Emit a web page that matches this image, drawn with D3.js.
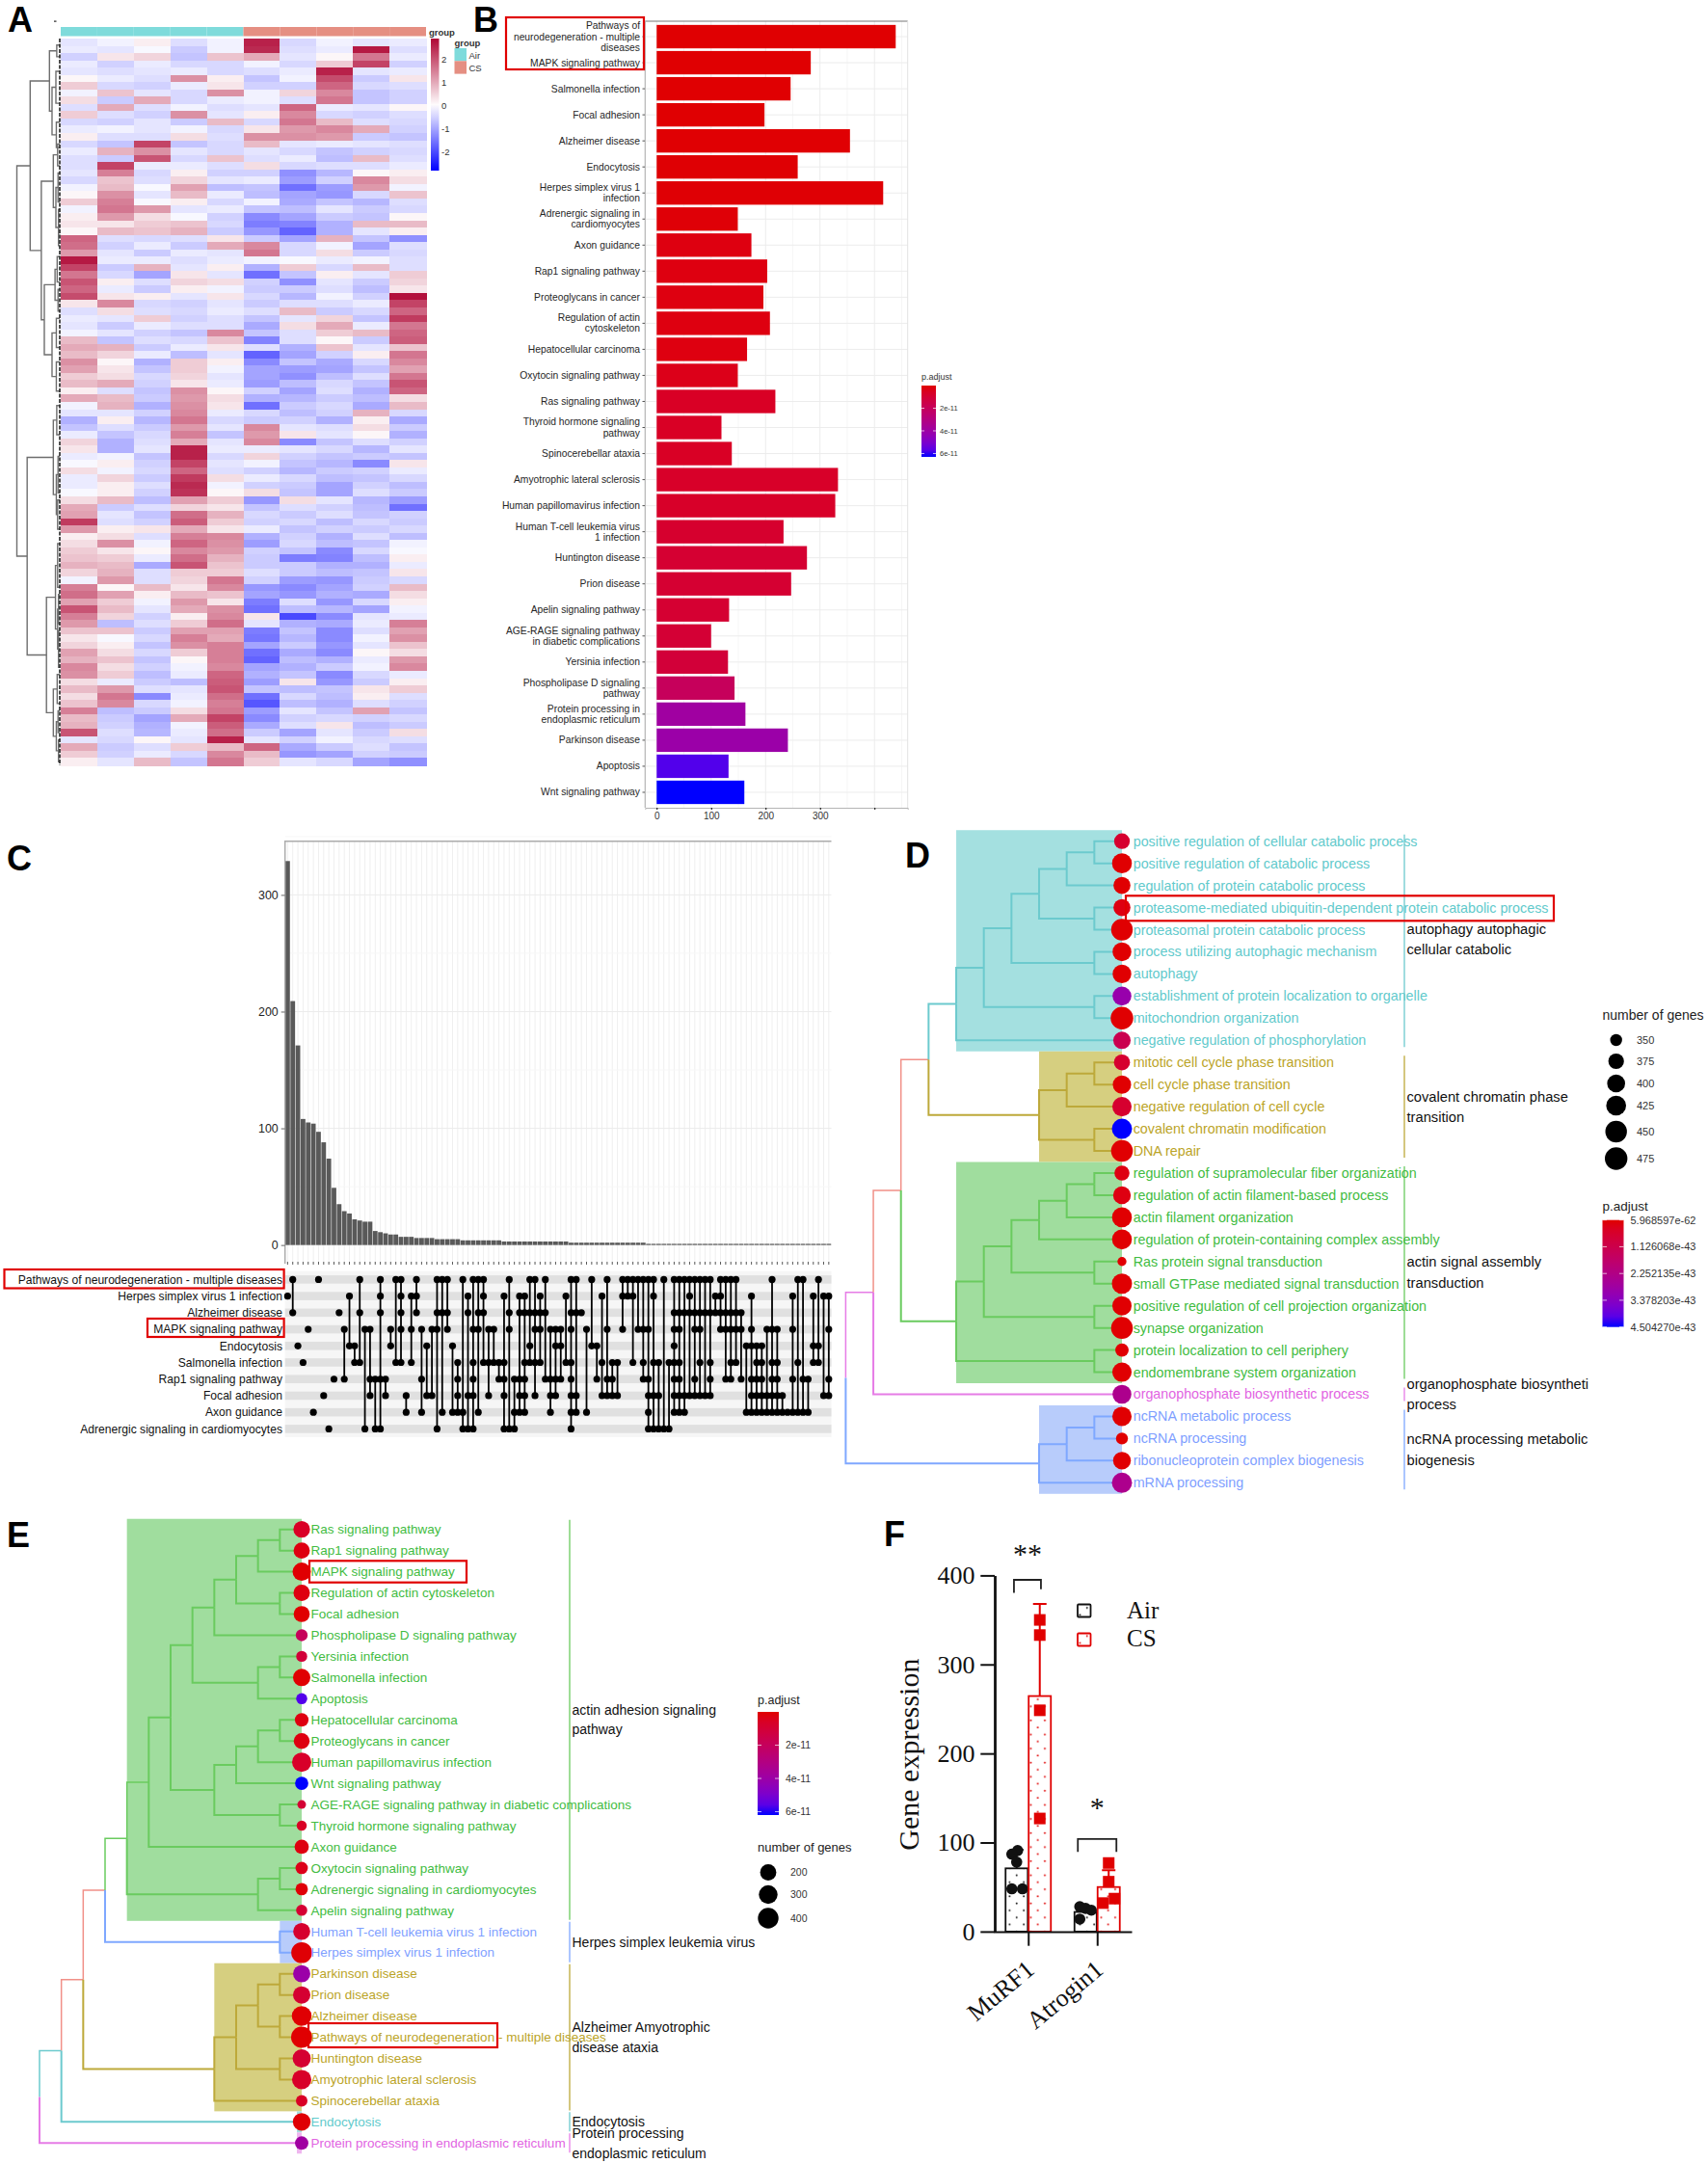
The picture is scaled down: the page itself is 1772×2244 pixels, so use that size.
<!DOCTYPE html>
<html>
<head>
<meta charset="utf-8">
<script src="https://cdn.jsdelivr.net/npm/d3@7"></script>
<style>
  html, body { margin: 0; background: #fff; }
  svg { display: block; font-family: "Liberation Sans", Arial, sans-serif; }
  .serif { font-family: "Liberation Serif", "Times New Roman", serif; }
</style>
</head>
<body>
<div id="chart"></div>
<script>
// ---------- data: panel A (z-scores x10, one row per gene band, read top to bottom)
const samples = ['a1', 'a2', 'a3', 'a4', 'a5', 'c1', 'c2', 'c3', 'c4', 'c5'];
const sampleGroup = ['Air', 'Air', 'Air', 'Air', 'Air', 'CS', 'CS', 'CS', 'CS', 'CS'];
const heatRows = [
  [-4,-2,2,-5,-2,26,-6,-2,-4,-3],
  [-3,-4,-1,-8,-2,25,-5,-3,27,-5],
  [-7,3,5,-9,7,10,-4,1,16,-3],
  [-3,-7,-3,-6,-6,-2,-6,6,22,-7],
  [-4,-5,-4,-3,-6,-5,-3,26,-4,-3],
  [1,-3,-5,13,2,-9,-2,21,-8,3],
  [6,-6,-7,-3,3,-7,-7,18,-6,-5],
  [-2,7,-4,-6,13,-2,5,14,-9,-7],
  [4,-8,10,-6,-3,-2,-5,16,-9,-7],
  [-5,10,-5,-2,-5,-4,18,-3,-4,1],
  [6,-5,-7,13,-4,2,14,-6,-7,-5],
  [-6,-7,-4,-8,8,-6,16,8,-5,-6],
  [-3,-2,-4,-2,-6,3,12,14,10,-7],
  [2,-5,-5,4,-5,13,13,12,-8,-9],
  [-6,-9,22,-9,-6,8,-4,-3,-4,-5],
  [-3,9,13,-4,-6,-4,-6,-9,-7,-6],
  [-5,-8,20,-6,7,-5,-3,-10,8,-5],
  [-5,22,-3,-3,-5,4,-6,-5,-5,-3],
  [-4,15,-6,2,-7,-7,-17,-11,1,2],
  [-6,7,-5,5,-4,-3,-15,-7,14,4],
  [-2,8,-1,11,-10,-9,-22,-15,12,-2],
  [1,13,-4,8,-3,-10,-14,-16,-6,7],
  [6,15,-1,2,-6,-2,-13,-9,-11,-5],
  [-2,16,12,-4,-3,-9,-10,-4,-8,-6],
  [2,12,4,-1,-7,-18,-14,-8,-9,1],
  [3,3,6,7,-6,-20,-19,-12,8,8],
  [1,8,7,9,-8,-16,-24,-12,-4,2],
  [18,-5,-6,-5,3,-8,-14,9,-9,-17],
  [17,-7,-3,-8,10,14,-6,-2,-14,-5],
  [12,-4,-8,-3,-4,16,-6,4,-8,-6],
  [27,-3,-3,-5,-3,-2,-1,-3,-2,-5],
  [22,-8,9,-4,2,-12,6,-6,8,-5],
  [16,-6,-14,3,-4,-22,-9,2,-4,6],
  [20,2,-5,5,4,-7,-17,-4,-8,5],
  [18,-3,-8,2,-2,-8,-8,-5,-10,3],
  [21,3,2,-4,3,-6,-11,-2,-7,28],
  [3,14,-6,-7,-4,-8,-5,-5,-3,22],
  [-5,4,-5,-6,-3,-5,8,-8,-6,18],
  [-3,-4,6,-7,-5,-9,-4,5,-9,23],
  [-4,-8,-3,-5,-5,-13,4,10,-3,16],
  [-2,-4,-7,-9,14,-9,-5,6,8,18],
  [8,-9,-5,-6,7,-19,-5,1,-8,19],
  [10,9,-8,-3,3,-5,-12,7,-4,7],
  [8,5,-3,-10,-4,-24,-14,-7,2,16],
  [13,1,-12,6,2,-18,-9,-13,-6,14],
  [11,3,-9,6,-2,-14,-15,-14,-9,11],
  [6,4,-6,5,-4,-14,-17,-10,-5,16],
  [8,10,-7,3,-3,-15,-10,-6,-9,20],
  [2,-5,-9,13,1,-7,-14,-5,-12,18],
  [10,8,-8,12,4,-12,-11,-8,-10,4],
  [-2,9,-12,13,3,-22,-8,-6,-13,8],
  [-4,-4,-7,14,-3,-6,-10,-7,9,-6],
  [-12,2,-11,16,-6,-8,-7,-12,2,-13],
  [-9,-5,-8,12,-4,14,-4,-5,4,-8],
  [-3,-9,-6,15,-9,12,3,-4,1,-12],
  [5,-12,-5,10,-4,14,-18,-9,-5,-7],
  [3,-12,-4,26,-3,-3,-4,-6,-11,-4],
  [-3,-2,-9,26,-6,5,-7,-9,-8,-9],
  [-1,2,-7,22,-4,-2,-9,-11,-18,3],
  [4,-2,-6,18,-5,-7,-11,-8,-7,-3],
  [-3,5,-8,23,4,-3,-6,-10,-9,-6],
  [-3,2,-5,25,-2,-7,-8,-14,-7,-10],
  [-1,2,-7,24,1,4,-9,-14,-5,-8],
  [4,8,-10,11,6,-16,4,-4,-11,-15],
  [10,-8,-5,5,3,-9,-5,-7,-10,-22],
  [11,-4,-9,17,9,-6,-8,-5,-9,-7],
  [23,-5,-7,19,6,-7,-6,-10,-6,-8],
  [12,2,3,10,3,-3,-9,-7,-8,-6],
  [2,4,-5,15,14,-12,-7,-12,-5,-10],
  [4,13,-2,18,13,-15,-6,-10,-9,-2],
  [6,3,1,14,12,-7,-9,-18,-6,-1],
  [7,6,-3,17,9,-8,-20,-19,-10,2],
  [9,8,-13,20,7,-8,-8,-12,-12,-3],
  [5,9,-5,6,6,-5,-8,-10,-9,3],
  [-2,12,-5,5,16,-7,-15,-16,-8,-6],
  [15,1,8,3,14,-16,-18,-14,-7,8],
  [17,11,2,8,7,-14,-16,-12,-13,4],
  [11,6,-2,12,3,-20,-5,-16,-6,2],
  [20,8,-4,10,13,-22,-10,-11,-14,-2],
  [15,5,-7,2,14,3,-28,-18,-4,-3],
  [12,-10,-5,6,17,-4,-12,-13,-3,15],
  [7,7,-8,11,11,-20,-9,-18,-5,11],
  [3,-1,-6,15,10,-21,-11,-18,-2,13],
  [5,2,-9,13,15,-14,-8,-16,-4,7],
  [11,4,-6,6,15,-22,-13,-18,1,4],
  [9,7,-9,1,15,-24,-10,-12,-3,12],
  [14,4,-7,-2,14,-14,-12,-8,-2,14],
  [13,6,-10,-3,18,-12,-9,-18,-6,-3],
  [4,-3,-8,-10,19,-15,3,-16,-8,2],
  [8,12,-5,-4,20,-9,-10,-9,3,6],
  [4,16,-18,-3,17,-22,-6,-10,2,-5],
  [7,14,-6,-2,15,-26,-10,-12,-5,-7],
  [15,-10,-8,4,16,-15,-4,-9,11,-9],
  [8,-8,-14,10,22,-18,-7,-6,-7,-6],
  [9,-7,-12,-2,19,-13,-5,3,-10,-8],
  [20,-5,-11,-3,17,-8,-14,-4,-8,4],
  [-4,-6,1,-4,26,-4,-7,-2,-6,-5],
  [10,-8,-5,6,8,18,-13,-8,-5,-9],
  [6,-7,-3,-6,14,8,-16,-14,-7,-8],
  [2,-4,8,-9,16,6,-4,-6,-14,-17]
];
const heatLegendTicks = [2, 1, 0, -1, -2];
// row dendrogram: [merge height, child, child]; a bare number is a row position
const rowTree = [100,
  [69,
    [24, [7, 0.4, 2], [18, [9, 4, 8.4], [8, 11, 14.5]]],
    [43,
      [15, [5, 14, 17], [9, [4, 18, 22], [3, 23, 28]]],
      [36, [11, [6, 29.5, 33], [4, 34, 37]], [18, [8, 38, 42], [8, 44, 48]]]]],
  [76,
    [15, [7, 50, 54], [8, [4, 57, 62], [5, 63, 67]]],
    [31,
      [10, [5, 69, 75], [5, [3, 76, 80], [3, 81, 86]]],
      [15, [6, 87, 91], [8, [4, 92, 95], [3, 96, 99]]]]]];

// ---------- data: panel B (KEGG terms, '|' marks a label line break)
const keggLabels = ['Pathways of|neurodegeneration - multiple|diseases', 'MAPK signaling pathway', 'Salmonella infection',
  'Focal adhesion', 'Alzheimer disease', 'Endocytosis', 'Herpes simplex virus 1|infection',
  'Adrenergic signaling in|cardiomyocytes', 'Axon guidance', 'Rap1 signaling pathway', 'Proteoglycans in cancer',
  'Regulation of actin|cytoskeleton', 'Hepatocellular carcinoma', 'Oxytocin signaling pathway', 'Ras signaling pathway',
  'Thyroid hormone signaling|pathway', 'Spinocerebellar ataxia', 'Amyotrophic lateral sclerosis',
  'Human papillomavirus infection', 'Human T-cell leukemia virus|1 infection', 'Huntington disease', 'Prion disease',
  'Apelin signaling pathway', 'AGE-RAGE signaling pathway|in diabetic complications', 'Yersinia infection',
  'Phospholipase D signaling|pathway', 'Protein processing in|endoplasmic reticulum', 'Parkinson disease', 'Apoptosis',
  'Wnt signaling pathway'];
const keggCounts = [439, 283, 246, 198, 355, 259, 416, 149, 174, 203, 196, 208, 166, 149, 218, 119, 138, 333, 328, 233,
  276, 247, 133, 100, 131, 143, 163, 241, 132, 161];
const keggPadj = [0.02, 0.02, 0.03, 0.03, 0.04, 0.05, 0.06, 0.08, 0.2, 0.2, 0.2, 0.2, 0.2, 0.35, 0.6, 0.6, 0.6, 0.7, 0.7,
  0.8, 0.9, 0.9, 0.9, 1.0, 1.1, 2.0, 3.9, 4.1, 5.8, 6.3];   // x 1e-11
const barTicks = [0, 100, 200, 300];
const padjTicksKegg = [2, 4, 6];

// ---------- data: panel C (upset)
const upsetCounts = [329, 209, 171, 108, 105, 104, 97, 88, 74, 49, 35, 29, 27, 22, 21, 20, 20, 12, 11, 10, 9, 9, 7, 7, 7,
  6, 6, 6, 6, 5, 5, 5, 5, 5, 4, 4, 4, 4, 4, 4, 4, 4, 3, 3, 3, 3, 3, 3, 3, 3, 3, 3, 3, 3, 3, 2, 2, 2, 2, 2, 2, 2, 2, 2, 2,
  2, 2, 2, 2, 2, 1, 1, 1, 1, 1, 1, 1, 1, 1, 1, 1, 1, 1, 1, 1, 1, 1, 1, 1, 1, 1, 1, 1, 1, 1, 1, 1, 1, 1, 1, 1, 1, 1, 1, 1, 1];
const upsetSets = ['Pathways of neurodegeneration - multiple diseases', 'Herpes simplex virus 1 infection', 'Alzheimer disease',
  'MAPK signaling pathway', 'Endocytosis', 'Salmonella infection', 'Rap1 signaling pathway', 'Focal adhesion', 'Axon guidance',
  'Adrenergic signaling in cardiomyocytes'];
// for each set, the intersections (bar indices) it belongs to
const upsetMembers = [
  [1, 6, 14, 18, 21, 22, 25, 29, 30, 31, 34, 36, 37, 38, 43, 47, 48, 50, 55, 56, 59, 62, 65, 66, 67, 68, 69, 70, 71, 73, 75, 76, 77, 78, 79, 80, 81, 82, 84, 85, 86, 87, 94, 99, 100, 103],
  [0, 12, 18, 22, 24, 25, 35, 38, 42, 45, 46, 49, 54, 61, 65, 66, 67, 71, 78, 83, 84, 90, 98, 102, 104, 105],
  [1, 10, 14, 18, 22, 25, 29, 30, 31, 35, 37, 38, 43, 45, 46, 47, 48, 49, 50, 55, 56, 57, 75, 76, 77, 78, 79, 80, 81, 82, 83, 84, 85, 86, 87, 88],
  [4, 11, 15, 16, 20, 22, 24, 26, 28, 29, 31, 36, 37, 39, 40, 43, 48, 49, 51, 52, 53, 55, 58, 62, 65, 68, 69, 70, 75, 76, 79, 80, 84, 85, 86, 87, 88, 90, 93, 94, 95, 98, 105],
  [2, 12, 13, 20, 27, 32, 47, 52, 53, 59, 60, 75, 89, 90, 91, 92, 102, 103],
  [3, 13, 14, 21, 22, 24, 33, 36, 38, 39, 40, 41, 42, 46, 47, 48, 49, 54, 55, 61, 63, 64, 67, 69, 71, 72, 74, 75, 76, 80, 82, 86, 87, 91, 92, 94, 95, 99, 102, 103],
  [9, 11, 16, 17, 18, 19, 26, 33, 36, 41, 42, 44, 45, 46, 50, 51, 52, 53, 55, 60, 62, 63, 69, 70, 75, 76, 79, 82, 85, 86, 88, 90, 91, 92, 94, 95, 98, 100, 101, 105],
  [7, 16, 19, 23, 27, 28, 33, 35, 36, 39, 42, 45, 46, 48, 51, 52, 55, 56, 61, 62, 63, 64, 70, 71, 72, 75, 76, 77, 78, 79, 80, 81, 82, 90, 91, 92, 93, 94, 95, 96, 104, 105],
  [5, 23, 26, 30, 32, 33, 34, 37, 44, 45, 46, 51, 55, 56, 58, 70, 75, 76, 77, 89, 90, 91, 92, 93, 94, 95, 96, 97, 98, 99, 100, 101],
  [8, 15, 17, 18, 29, 34, 35, 36, 42, 43, 44, 55, 70, 71, 72, 73, 74]
];
const upsetTicks = [0, 100, 200, 300];

// ---------- data: panel D (GO terms)
const goTerms = ['positive regulation of cellular catabolic process', 'positive regulation of catabolic process',
  'regulation of protein catabolic process', 'proteasome-mediated ubiquitin-dependent protein catabolic process',
  'proteasomal protein catabolic process', 'process utilizing autophagic mechanism', 'autophagy',
  'establishment of protein localization to organelle', 'mitochondrion organization', 'negative regulation of phosphorylation',
  'mitotic cell cycle phase transition', 'cell cycle phase transition', 'negative regulation of cell cycle',
  'covalent chromatin modification', 'DNA repair', 'regulation of supramolecular fiber organization',
  'regulation of actin filament-based process', 'actin filament organization', 'regulation of protein-containing complex assembly',
  'Ras protein signal transduction', 'small GTPase mediated signal transduction', 'positive regulation of cell projection organization',
  'synapse organization', 'protein localization to cell periphery', 'endomembrane system organization',
  'organophosphate biosynthetic process', 'ncRNA metabolic process', 'ncRNA processing', 'ribonucleoprotein complex biogenesis',
  'mRNA processing'];
const goGenes = [376, 425, 390, 390, 450, 412, 410, 412, 475, 394, 380, 405, 418, 430, 455, 371, 398, 425, 425, 330, 430, 418,
  455, 360, 418, 412, 418, 350, 398, 430];
const goPadj = [0.6, 0.02, 0.02, 0.15, 0.02, 0.02, 0.02, 3.0, 0.02, 1.2, 0.6, 0.02, 0.6, 4.5, 0.02, 0.15, 0.15, 0.02, 0.02, 0.02,
  0.02, 0.02, 0.02, 0.02, 0.02, 2.4, 0.02, 0.02, 0.02, 2.4];   // x 1e-43
const goTeal = [[[[[[0, 1], 2], [3, 4]], [5, 6]], [7, 8]], 9];
const goGold = [[[10, 11], 12], [13, 14]];
const goGreen = [[[[[[15, 16], 17], 18], [19, 20]], [21, 22]], [23, 24]];
const goBlue = [[[26, 27], 28], 29];
const goTree = [[[[goTeal, goGold], goGreen], 25], goBlue];
// first term, last term, colour group, tree level of the shaded block
const goClusters = [[0, 9, 'teal', 4], [10, 14, 'gold', 7], [15, 24, 'green', 4], [25, 25, 'pink', null], [26, 29, 'blue', 7]];
const goClusterText = [
  [['autophagy autophagic', 964], ['cellular catabolic', 985]],
  [['covalent chromatin phase', 1138], ['transition', 1159]],
  [['actin signal assembly', 1309], ['transduction', 1331]],
  [['organophosphate biosyntheti', 1436], ['process', 1457]],
  [['ncRNA processing metabolic', 1493], ['biogenesis', 1515]]];
const goSizeLegend = [350, 375, 400, 425, 450, 475];
const goSizeRadius = [6.2, 8.1, 9.3, 10.3, 11.2, 11.7];
const goPadjLegend = [[0, '5.968597e-62'], [1.126068, '1.126068e-43'], [2.252135, '2.252135e-43'], [3.378203, '3.378203e-43'], [4.50427, '4.504270e-43']];

// ---------- data: panel E (KEGG tree, indices into keggTreeTerms)
const keggTreeTerms = ['Ras signaling pathway', 'Rap1 signaling pathway', 'MAPK signaling pathway', 'Regulation of actin cytoskeleton',
  'Focal adhesion', 'Phospholipase D signaling pathway', 'Yersinia infection', 'Salmonella infection', 'Apoptosis',
  'Hepatocellular carcinoma', 'Proteoglycans in cancer', 'Human papillomavirus infection', 'Wnt signaling pathway',
  'AGE-RAGE signaling pathway in diabetic complications', 'Thyroid hormone signaling pathway', 'Axon guidance',
  'Oxytocin signaling pathway', 'Adrenergic signaling in cardiomyocytes', 'Apelin signaling pathway',
  'Human T-cell leukemia virus 1 infection', 'Herpes simplex virus 1 infection', 'Parkinson disease', 'Prion disease',
  'Alzheimer disease', 'Pathways of neurodegeneration - multiple diseases', 'Huntington disease', 'Amyotrophic lateral sclerosis',
  'Spinocerebellar ataxia', 'Endocytosis', 'Protein processing in endoplasmic reticulum'];
const keggActinA = [[[[0, 1], 2], [3, 4]], 5];
const keggActinB = [[[[9, 10], 11], 12], [13, 14]];
const keggGreen = [[[[keggActinA, [[6, 7], 8]], keggActinB], 15], [[16, 17], 18]];
const keggGold = [[[[21, 22], [23, 24]], [25, 26]], 27];
const keggTree = [[[[keggGreen, [19, 20]], keggGold], 28], 29];
const keggClusters = [[0, 18, 'green', 4], [19, 20, 'blue', 11], [21, 27, 'gold', 8], [28, 28, 'teal', 11.78], [29, 29, 'pink', 11.78]];
const keggClusterText = [
  [['actin adhesion signaling', 1774], ['pathway', 1794]],
  [['Herpes simplex leukemia virus', 2015]],
  [['Alzheimer Amyotrophic', 2103], ['disease ataxia', 2124]],
  [['Endocytosis', 2201]],
  [['Protein processing', 2213], ['endoplasmic reticulum', 2234]]];
const keggSizeLegend = [200, 300, 400];
const keggSizeDomain = [100, 200, 300, 400, 440];
const keggSizeRadius = [4.5, 8.4, 9.7, 10.7, 11];

// ---------- data: panel F
const geneNames = ['MuRF1', 'Atrogin1'];
const exposures = ['Air', 'CS'];
const airMeans = [71, 22];
const csMeans = [264.5, 50];
const airErrTop = [92, 28];
const csErrTop = [368, 69];
const airPoints = [[91, 87, 78, 48, 48], [28, 26, 24, 14]];
const airJitter = [[1, -5, 0, -5, 6], [-6, 0, 6, -6]];
const csPoints = [[350, 333, 248.5, 127], [77, 56, 32, 37]];
const csJitter = [[0, 0, 0, 0], [0, 0, -6, 6]];
const exprTicks = [0, 100, 200, 300, 400];

// ---------- shared
const groupColors = {
  teal: { fill: '#A4E0E0', line: '#6CCACE', text: '#62CACC' },
  gold: { fill: '#D6CF80', line: '#BDA93A', text: '#BBA428' },
  green: { fill: '#A0DD9E', line: '#6ACB5F', text: '#42BC42' },
  blue: { fill: '#B8CCFB', line: '#7FA8FF', text: '#7F9FFF' },
  pink: { fill: '#EFB6EF', line: '#E67CE6', text: '#E264E2' },
  salmon: { line: '#F19088' }
};
const RED = '#E00000';

const svg = d3.select('#chart').append('svg').attr('width', 1772).attr('height', 2244);

function panelLabel(t, x, y) {
  svg.append('text').attr('x', x).attr('y', y).attr('font-size', 36).attr('font-weight', 'bold').attr('fill', '#000').text(t);
}
function redBox(x0, y0, x1, y1) {
  svg.append('rect').attr('x', x0).attr('y', y0).attr('width', x1 - x0).attr('height', y1 - y0)
    .attr('fill', 'none').attr('stroke', RED).attr('stroke-width', 2.2);
}
function gradient(id, color, domain) {
  const g = svg.append('defs').append('linearGradient').attr('id', id).attr('x1', 0).attr('x2', 0).attr('y1', 0).attr('y2', 1);
  d3.range(0, 1.001, 0.1).forEach(t => {
    g.append('stop').attr('offset', t).attr('stop-color', color(domain[0] + t * (domain[1] - domain[0])));
  });
}

// ---------- panel A
function heatmap() {
  const x = d3.scaleBand().domain(samples).range([63, 442]);
  const y = d3.scaleBand().domain(d3.range(heatRows.length)).range([40, 794]);
  const color = d3.scaleLinear().domain([-2.8, 0, 2.8]).range(['#0000FF', '#FFFFFF', '#B2103C']);
  const g = svg.append('g');
  // the blue bands are thin stripes blended with white in the reference, so read them softer
  const cellZ = d => d < 0 ? d / 14 : d / 10;

  samples.forEach((s, i) => {
    g.append('rect').attr('x', x(s)).attr('y', 28).attr('width', x.bandwidth()).attr('height', 9.5)
      .attr('fill', sampleGroup[i] === 'Air' ? '#7FDBDB' : '#E58F82');
  });
  g.selectAll('g.row').data(heatRows).join('g').attr('class', 'row')
    .each(function (row, r) {
      d3.select(this).selectAll('rect').data(row).join('rect')
        .attr('x', (d, i) => x(samples[i])).attr('y', y(r))
        .attr('width', x.bandwidth() + 0.5).attr('height', y.bandwidth() + 0.5)
        .attr('shape-rendering', 'crispEdges')
        .attr('fill', d => color(cellZ(d)));
    });

  // dendrogram
  const h = d3.scaleLinear().domain([0, 100]).range([62, 17.5]);
  const rowY = r => y(0) + (r + 0.5) * y.step();
  const lines = g.append('g').attr('fill', 'none').attr('stroke', '#6e6e6e').attr('stroke-width', 1.4);
  function walk(node) {
    if (typeof node === 'number') return { y: rowY(node), x: h(0) };
    const a = walk(node[1]), b = walk(node[2]);
    const nx = h(node[0]);
    lines.append('path').attr('d', `M${a.x},${a.y}H${nx}V${b.y}H${b.x}`);
    return { y: (a.y + b.y) / 2, x: nx };
  }
  walk(rowTree);
  g.append('line').attr('x1', h(0)).attr('x2', h(0)).attr('y1', y.range()[0]).attr('y2', y.range()[1])
    .attr('stroke', '#222').attr('stroke-width', 1.6).attr('stroke-dasharray', '4 1.5');
  g.append('rect').attr('x', 56).attr('y', 21.5).attr('width', 2.5).attr('height', 1.2).attr('fill', '#222');

  // legends
  gradient('heatGrad', color, [2.9, -2.8]);
  const ly = d3.scaleLinear().domain([2.9, -2.8]).range([40, 177]);
  g.append('rect').attr('x', 447).attr('y', 40).attr('width', 8.5).attr('height', 137).attr('fill', 'url(#heatGrad)');
  g.selectAll('text.lt').data(heatLegendTicks).join('text').attr('class', 'lt')
    .attr('x', 458).attr('y', d => ly(d)).attr('dy', '.35em').attr('font-size', 9.5).attr('fill', '#333').text(d => d);
  g.append('text').attr('x', 445).attr('y', 36.5).attr('font-size', 9.5).attr('font-weight', 'bold').attr('fill', '#333').text('group');
  g.append('text').attr('x', 471.5).attr('y', 47.5).attr('font-size', 9.5).attr('font-weight', 'bold').attr('fill', '#333').text('group');
  [['Air', '#7FDBDB'], ['CS', '#E58F82']].forEach((d, i) => {
    g.append('rect').attr('x', 471.5).attr('y', 50 + i * 13.3).attr('width', 12.5).attr('height', 13.3).attr('fill', d[1]);
    g.append('text').attr('x', 486.5).attr('y', 60.5 + i * 13.3).attr('font-size', 9.5).attr('fill', '#333').text(d[0]);
  });
}

// ---------- panel B
function keggBars() {
  const x = d3.scaleLinear().domain([-21.2, 461]).range([669.3, 941.7]);
  const y = d3.scaleBand().domain(keggLabels).range([24.5, 835.5]).paddingInner(0.1).paddingOuter(0.05);
  const color = d3.scaleLinear().domain([0, 6.3]).range([RED, '#0000FF']).interpolate(d3.interpolateLab);
  const g = svg.append('g');

  // grid
  [50, 150, 250, 350, 450].forEach(v => g.append('line').attr('x1', x(v)).attr('x2', x(v)).attr('y1', 22).attr('y2', 838).attr('stroke', '#f6f6f6'));
  [0, 100, 200, 300, 400].forEach(v => g.append('line').attr('x1', x(v)).attr('x2', x(v)).attr('y1', 22).attr('y2', 838).attr('stroke', '#ececec'));
  keggLabels.forEach(l => g.append('line').attr('x1', 669.3).attr('x2', 941.7).attr('y1', y(l) + y.bandwidth() / 2).attr('y2', y(l) + y.bandwidth() / 2).attr('stroke', '#ececec'));

  g.selectAll('rect.bar').data(keggLabels).join('rect').attr('class', 'bar')
    .attr('x', x(0)).attr('y', d => y(d)).attr('height', y.bandwidth())
    .attr('width', (d, i) => x(keggCounts[i]) - x(0))
    .attr('fill', (d, i) => color(keggPadj[i]));

  // frame
  g.append('line').attr('x1', 669.3).attr('x2', 941.7).attr('y1', 22).attr('y2', 22).attr('stroke', '#777').attr('stroke-width', 1.2);
  g.append('line').attr('x1', 669.3).attr('x2', 669.3).attr('y1', 22).attr('y2', 838).attr('stroke', '#b5b5b5').attr('stroke-width', 1.2);
  g.append('line').attr('x1', 941.7).attr('x2', 941.7).attr('y1', 22).attr('y2', 838).attr('stroke', '#e2e2e2');
  const xAxis = g.append('g').attr('transform', 'translate(0,838)')
    .call(d3.axisBottom(x).tickValues(barTicks.concat([400])).tickSize(2).tickFormat(d => d > 300 ? '' : d));
  xAxis.select('.domain').attr('stroke', '#b5b5b5');
  xAxis.selectAll('text').attr('font-size', 10).attr('fill', '#333').attr('font-family', 'inherit');

  // labels
  keggLabels.forEach(l => {
    const parts = l.split('|');
    const cy = y(l) + y.bandwidth() / 2;
    const t = g.append('text').attr('text-anchor', 'end').attr('font-size', 10.3).attr('fill', '#262626');
    parts.forEach((p, i) => t.append('tspan').attr('x', 664)
      .attr('y', cy + (i - (parts.length - 1) / 2) * 11.1 + 3.5).text(p));
    g.append('line').attr('x1', 666.5).attr('x2', 669).attr('y1', cy).attr('y2', cy).attr('stroke', '#555');
  });

  // legend
  gradient('padjB', color, [0, 6.3]);
  const ly = d3.scaleLinear().domain([0, 6.3]).range([400, 474]);
  g.append('rect').attr('x', 956).attr('y', 400).attr('width', 15).attr('height', 74).attr('fill', 'url(#padjB)');
  g.append('text').attr('x', 956).attr('y', 394).attr('font-size', 9).attr('fill', '#333').text('p.adjust');
  padjTicksKegg.forEach(v => {
    g.append('line').attr('x1', 956).attr('x2', 959).attr('y1', ly(v)).attr('y2', ly(v)).attr('stroke', '#fff').attr('opacity', 0.7);
    g.append('line').attr('x1', 968).attr('x2', 971).attr('y1', ly(v)).attr('y2', ly(v)).attr('stroke', '#fff').attr('opacity', 0.7);
    g.append('text').attr('x', 975).attr('y', ly(v)).attr('dy', '.35em').attr('font-size', 7.5).attr('fill', '#333').text(v + 'e-11');
  });
}

// ---------- panel C
function upset() {
  const x = d3.scaleBand().domain(d3.range(upsetCounts.length)).range([295.7, 862.5]).paddingInner(0.1).paddingOuter(0.05);
  const y = d3.scaleLinear().domain([-16, 346]).range([1311, 872.7]);
  const rows = d3.scaleBand().domain(upsetSets).range([1318.8, 1491]);
  const g = svg.append('g');
  const cx = i => x(i) + x.bandwidth() / 2;

  upsetCounts.forEach((c, i) => g.append('line').attr('x1', cx(i)).attr('x2', cx(i)).attr('y1', 872.7).attr('y2', 1311).attr('stroke', '#efefef'));
  [50, 150, 250, 350].forEach(v => g.append('line').attr('x1', 295.7).attr('x2', 862.5).attr('y1', y(v)).attr('y2', y(v)).attr('stroke', '#f7f7f7'));
  upsetTicks.forEach(v => g.append('line').attr('x1', 295.7).attr('x2', 862.5).attr('y1', y(v)).attr('y2', y(v)).attr('stroke', '#ececec'));

  g.selectAll('rect.bar').data(upsetCounts).join('rect').attr('class', 'bar')
    .attr('x', (d, i) => x(i)).attr('width', x.bandwidth())
    .attr('y', d => y(d)).attr('height', d => y(0) - y(d)).attr('fill', '#595959');

  const yAxis = g.append('g').attr('transform', 'translate(295.7,0)').call(d3.axisLeft(y).tickValues(upsetTicks).tickSize(4));
  yAxis.select('.domain').attr('stroke', '#ababab').attr('stroke-width', 1.5).attr('d', 'M0,' + 1311 + 'V' + 872.7 + 'H566.8');
  yAxis.selectAll('text').attr('font-size', 12.4).attr('fill', '#222').attr('font-family', 'inherit');
  yAxis.selectAll('.tick line').attr('stroke', '#666');

  // ticks between the bars and the matrix
  upsetCounts.forEach((c, i) => g.append('line').attr('x1', cx(i)).attr('x2', cx(i)).attr('y1', 1309).attr('y2', 1312).attr('stroke', '#333').attr('stroke-width', 0.8));

  // matrix
  g.append('rect').attr('x', 295.7).attr('y', 1318.8).attr('width', 566.8).attr('height', 172.2).attr('fill', '#F6F6F6');
  upsetSets.forEach(s => {
    g.append('rect').attr('x', 295.7).attr('y', rows(s) + rows.bandwidth() / 2 - 4.3).attr('width', 566.8).attr('height', 8.6).attr('fill', '#E0E0E0');
    g.append('text').attr('x', 293).attr('y', rows(s) + rows.bandwidth() / 2).attr('dy', '.35em').attr('text-anchor', 'end')
      .attr('font-size', 12.1).attr('fill', '#111').text(s);
  });
  upsetCounts.forEach((c, i) => {
    const inSets = upsetSets.filter((s, k) => upsetMembers[k].includes(i));
    if (inSets.length > 1) {
      g.append('line').attr('x1', cx(i)).attr('x2', cx(i))
        .attr('y1', rows(inSets[0]) + rows.bandwidth() / 2)
        .attr('y2', rows(inSets[inSets.length - 1]) + rows.bandwidth() / 2)
        .attr('stroke', '#000').attr('stroke-width', 1.8);
    }
    inSets.forEach(s => g.append('circle').attr('cx', cx(i)).attr('cy', rows(s) + rows.bandwidth() / 2).attr('r', 3.6).attr('fill', '#000'));
  });
}

// ---------- panels D and E share the tree drawing
function termTree(opt) {
  const g = svg.append('g');
  const y = d3.scalePoint().domain(opt.terms).range(opt.yRange);
  const root = d3.hierarchy(opt.tree, d => Array.isArray(d) ? d : null);
  const x = d3.scaleLinear().domain([root.height, 0]).range(opt.xRange);
  const groupOf = i => opt.clusters.find(c => i >= c[0] && i <= c[1])[2];

  root.eachAfter(n => {
    n.py = n.children ? d3.mean(n.children, c => c.py) : y(opt.terms[n.data]);
    const groups = new Set(n.leaves().map(l => groupOf(l.data)));
    n.group = groups.size === 1 ? [...groups][0] : 'salmon';
  });
  // shaded blocks first
  const step = y.step();
  opt.clusters.forEach(c => {
    if (c[3] === null) return;
    g.append('rect').attr('x', x(root.height - c[3])).attr('width', x(0) - x(root.height - c[3]))
      .attr('y', y(opt.terms[c[0]]) - step / 2).attr('height', y(opt.terms[c[1]]) - y(opt.terms[c[0]]) + step)
      .attr('fill', groupColors[c[2]].fill);
  });
  root.descendants().filter(n => n.parent).forEach(n => {
    let col = n.group;
    if (n.parent === root && col === 'salmon') col = opt.rootMixed;
    const inBlock = n.group !== 'salmon' && n.height < 7;
    g.append('path').attr('fill', 'none').attr('stroke', groupColors[col].line)
      .attr('stroke-width', inBlock ? 2 : 1.5)
      .attr('d', `M${x(n.parent.height)},${n.parent.py}V${n.py}H${x(n.height)}`);
  });
  // group lines and their text
  opt.clusters.forEach((c, k) => {
    g.append('line').attr('x1', opt.lineX).attr('x2', opt.lineX)
      .attr('y1', y(opt.terms[c[0]]) - opt.lineExtra).attr('y2', y(opt.terms[c[1]]) + opt.lineExtra)
      .attr('stroke', groupColors[c[2]].line).attr('stroke-width', 1.3);
    opt.clusterText[k].forEach(t => g.append('text').attr('x', opt.lineX + 2.5).attr('y', t[1]).attr('dy', '.35em')
      .attr('font-size', opt.clusterFont).attr('fill', '#111').text(t[0]));
  });
  // dots and term labels
  root.leaves().forEach(l => {
    const i = l.data;
    g.append('circle').attr('cx', x(0)).attr('cy', y(opt.terms[i])).attr('r', opt.radius(opt.genes(i))).attr('fill', opt.dotColor(opt.padj(i)));
    g.append('text').attr('x', x(0) + opt.textGap).attr('y', y(opt.terms[i])).attr('dy', '.35em')
      .attr('font-size', opt.termFont).attr('fill', groupColors[groupOf(i)].text).text(opt.terms[i]);
  });
}

function goPanel() {
  const color = d3.scaleLinear().domain([0, 4.5]).range([RED, '#0000FF']).interpolate(d3.interpolateLab);
  const radius = d3.scaleLinear().domain(goSizeLegend).range(goSizeRadius);
  termTree({
    terms: goTerms, tree: goTree, clusters: goClusters, clusterText: goClusterText,
    yRange: [872.7, 1538.3], xRange: [877.4, 1164], rootMixed: 'pink', lineX: 1457, lineExtra: 7,
    genes: i => goGenes[i], padj: i => goPadj[i], radius, dotColor: color,
    textGap: 11.7, termFont: 14.3, clusterFont: 14.7
  });
  const g = svg.append('g');
  g.append('text').attr('x', 1662.5).attr('y', 1058).attr('font-size', 14).attr('fill', '#222').text('number of genes');
  const rows = [1079, 1101, 1124, 1147, 1174, 1202];
  goSizeLegend.forEach((v, i) => {
    g.append('circle').attr('cx', 1676.7).attr('cy', rows[i]).attr('r', radius(v)).attr('fill', '#000');
    g.append('text').attr('x', 1698).attr('y', rows[i]).attr('dy', '.35em').attr('font-size', 11).attr('fill', '#333').text(v);
  });
  g.append('text').attr('x', 1662.5).attr('y', 1256).attr('font-size', 13.5).attr('fill', '#222').text('p.adjust');
  gradient('padjD', color, [0, 4.5]);
  const ly = d3.scaleLinear().domain([0, 4.50427]).range([1265.7, 1376.7]);
  g.append('rect').attr('x', 1662.5).attr('y', 1265.7).attr('width', 22).attr('height', 111).attr('fill', 'url(#padjD)');
  goPadjLegend.forEach(d => {
    g.append('line').attr('x1', 1662.5).attr('x2', 1667).attr('y1', ly(d[0])).attr('y2', ly(d[0])).attr('stroke', '#fff').attr('opacity', 0.7);
    g.append('line').attr('x1', 1680).attr('x2', 1684.5).attr('y1', ly(d[0])).attr('y2', ly(d[0])).attr('stroke', '#fff').attr('opacity', 0.7);
    g.append('text').attr('x', 1691.5).attr('y', ly(d[0])).attr('dy', '.35em').attr('font-size', 11).attr('fill', '#333').text(d[1]);
  });
}

function keggPanel() {
  const color = d3.scaleLinear().domain([0, 6.3]).range([RED, '#0000FF']).interpolate(d3.interpolateLab);
  const radius = d3.scaleLinear().domain(keggSizeDomain).range(keggSizeRadius);
  const idx = t => keggLabels.findIndex(l => l.replace(/\|/g, ' ') === t);
  termTree({
    terms: keggTreeTerms, tree: keggTree, clusters: keggClusters, clusterText: keggClusterText,
    yRange: [1586.7, 2223.3], xRange: [41, 313], rootMixed: 'teal', lineX: 591, lineExtra: 10,
    genes: i => keggCounts[idx(keggTreeTerms[i])], padj: i => keggPadj[idx(keggTreeTerms[i])], radius, dotColor: color,
    textGap: 9.5, termFont: 13.5, clusterFont: 14
  });
  const g = svg.append('g');
  g.append('text').attr('x', 786).attr('y', 1768).attr('font-size', 12.5).attr('fill', '#222').text('p.adjust');
  gradient('padjE', color, [0, 6.3]);
  const ly = d3.scaleLinear().domain([0, 6.2]).range([1776, 1883]);
  g.append('rect').attr('x', 786).attr('y', 1776).attr('width', 22).attr('height', 107).attr('fill', 'url(#padjE)');
  padjTicksKegg.forEach(v => {
    g.append('line').attr('x1', 786).attr('x2', 790).attr('y1', ly(v)).attr('y2', ly(v)).attr('stroke', '#fff').attr('opacity', 0.7);
    g.append('line').attr('x1', 804).attr('x2', 808).attr('y1', ly(v)).attr('y2', ly(v)).attr('stroke', '#fff').attr('opacity', 0.7);
    g.append('text').attr('x', 815).attr('y', ly(v)).attr('dy', '.35em').attr('font-size', 10.5).attr('fill', '#333').text(v + 'e-11');
  });
  g.append('text').attr('x', 786).attr('y', 1921).attr('font-size', 13).attr('fill', '#222').text('number of genes');
  const rows = [1942.5, 1965.5, 1990];
  keggSizeLegend.forEach((v, i) => {
    g.append('circle').attr('cx', 797).attr('cy', rows[i]).attr('r', radius(v)).attr('fill', '#000');
    g.append('text').attr('x', 820).attr('y', rows[i]).attr('dy', '.35em').attr('font-size', 10.5).attr('fill', '#333').text(v);
  });
}

// ---------- panel F
function expression() {
  const y = d3.scaleLinear().domain([0, 400]).range([2003.9, 1634.4]);
  const x = d3.scalePoint().domain(geneNames).range([1031, 1174]).padding(0.5);
  const sub = d3.scaleBand().domain(exposures).range([-23.5, 23.5]).paddingInner(0.04);
  const g = svg.append('g');
  const colorOf = { Air: '#111', CS: RED };

  const defs = svg.append('defs');
  exposures.forEach(e => {
    const p = defs.append('pattern').attr('id', 'dots' + e).attr('patternUnits', 'userSpaceOnUse').attr('width', 14.6).attr('height', 14.6);
    p.append('rect').attr('width', 14.6).attr('height', 14.6).attr('fill', '#fff');
    p.append('circle').attr('cx', 3.6).attr('cy', 3.6).attr('r', 0.95).attr('fill', colorOf[e]);
    p.append('circle').attr('cx', 10.9).attr('cy', 10.9).attr('r', 0.95).attr('fill', colorOf[e]);
  });

  const series = [
    { key: 'Air', means: airMeans, top: airErrTop, pts: airPoints, jit: airJitter },
    { key: 'CS', means: csMeans, top: csErrTop, pts: csPoints, jit: csJitter }
  ];
  series.forEach(s => {
    const col = colorOf[s.key];
    geneNames.forEach((gene, i) => {
      const x0 = x(gene) + sub(s.key), cx = x0 + sub.bandwidth() / 2;
      g.append('rect').attr('x', x0).attr('y', y(s.means[i])).attr('width', sub.bandwidth()).attr('height', y(0) - y(s.means[i]))
        .attr('fill', `url(#dots${s.key})`).attr('stroke', col).attr('stroke-width', 1.8);
      g.append('path').attr('fill', 'none').attr('stroke', col).attr('stroke-width', 2)
        .attr('d', `M${cx},${y(s.means[i])}V${y(s.top[i])}M${cx - 7},${y(s.top[i])}H${cx + 7}`);
      s.pts[i].forEach((v, k) => {
        if (s.key === 'Air') {
          g.append('circle').attr('cx', cx + s.jit[i][k]).attr('cy', y(v)).attr('r', 5.8).attr('fill', col);
        } else {
          g.append('rect').attr('x', cx + s.jit[i][k] - 6).attr('y', y(v) - 6).attr('width', 12).attr('height', 12).attr('fill', col);
        }
      });
    });
  });

  // axes
  const yAxis = g.append('g').attr('transform', 'translate(1032,0)').call(d3.axisLeft(y).tickValues(exprTicks).tickSize(14.7).tickSizeOuter(0));
  yAxis.select('.domain').attr('stroke', '#111').attr('stroke-width', 2.8);
  yAxis.selectAll('.tick line').attr('stroke', '#111').attr('stroke-width', 2);
  yAxis.selectAll('text').attr('class', 'serif').attr('font-size', 26).attr('fill', '#111').attr('x', -20.5);
  const xAxis = g.append('g').attr('transform', `translate(0,${y(0)})`).call(d3.axisBottom(x).tickSize(14.8).tickSizeOuter(0).tickFormat(''));
  xAxis.select('.domain').attr('stroke', '#111').attr('stroke-width', 2);
  xAxis.selectAll('.tick line').attr('stroke', '#111').attr('stroke-width', 2);
  geneNames.forEach(n => {
    g.append('text').attr('class', 'serif').attr('text-anchor', 'end').attr('font-size', 26).attr('fill', '#111')
      .attr('transform', `translate(${x(n) + 8},2046) rotate(-40)`).text(n);
  });
  g.append('text').attr('class', 'serif').attr('text-anchor', 'middle').attr('font-size', 30).attr('fill', '#111')
    .attr('transform', `translate(953,${y(200) + 1}) rotate(-90)`).text('Gene expression');

  // significance brackets
  const bracket = (xa, xb, top, la, lb, label, ty) => {
    g.append('path').attr('fill', 'none').attr('stroke', '#222').attr('stroke-width', 1.8)
      .attr('d', `M${xa},${y(la)}V${y(top)}H${xb}V${y(lb)}`);
    g.append('text').attr('class', 'serif').attr('x', (xa + xb) / 2).attr('y', ty).attr('text-anchor', 'middle').attr('font-size', 30).attr('fill', '#111').text(label);
  };
  bracket(x('MuRF1') - 14.8, x('MuRF1') + 13.2, 395, 380.5, 384.5, '**', 1622);
  bracket(x('Atrogin1') - 20, x('Atrogin1') + 20, 104, 89.5, 89.5, '*', 1885);

  // legend
  exposures.forEach((e, i) => {
    g.append('rect').attr('x', 1118).attr('y', 1664.5 + i * 30).attr('width', 13.5).attr('height', 13).attr('rx', 1)
      .attr('fill', `url(#dots${e})`).attr('stroke', colorOf[e]).attr('stroke-width', 1.8);
    g.append('text').attr('class', 'serif').attr('x', 1169).attr('y', 1679 + i * 29).attr('font-size', 25).attr('fill', '#111').text(e);
  });
}

heatmap();
keggBars();
upset();
goPanel();
keggPanel();
expression();

panelLabel('A', 8, 33);
panelLabel('B', 491, 33);
panelLabel('C', 7, 903);
panelLabel('D', 939, 900);
panelLabel('E', 7, 1605);
panelLabel('F', 917, 1604);

redBox(525, 18, 668, 72);
redBox(4.5, 1317, 294.6, 1336.5);
redBox(153, 1368, 294.6, 1387);
redBox(1168, 929.3, 1612, 955.3);
redBox(321, 1619.3, 484, 1641.7);
redBox(320, 2099, 516, 2124);
</script>
</body>
</html>
